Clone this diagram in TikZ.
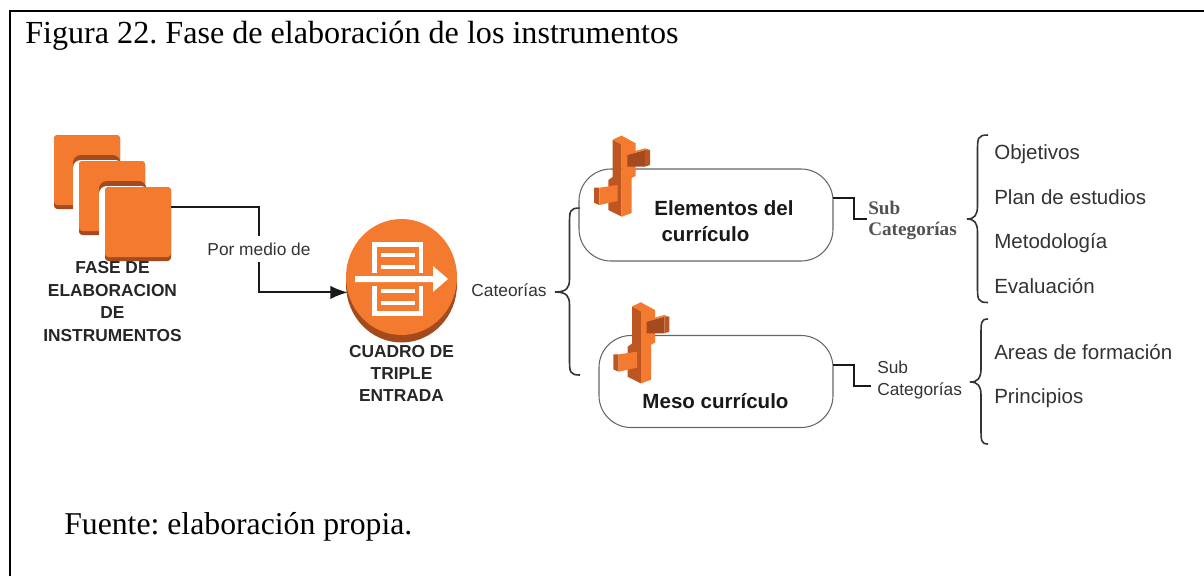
\documentclass[tikz,border=0pt]{standalone}
\usepackage{xcolor}
\usepackage{fontspec}
\setmainfont{Liberation Serif}
\setsansfont{Liberation Sans}
\usepackage{tikz}
\usetikzlibrary{calc}
\usetikzlibrary{arrows.meta}
\usetikzlibrary{shapes.geometric}
\definecolor{awsorange}{HTML}{F37A2E}
\definecolor{awsdark}{HTML}{A54A1D}
\definecolor{awsmid}{HTML}{BE5622}
\definecolor{labelgray}{HTML}{333333}
\tikzset{>=latex}
\tikzstyle{head} = [font = \fontsize{23.8}{26}\selectfont\rmfamily\frenchspacing, inner sep=0pt, anchor=west]
\tikzstyle{lab} = [font = \fontsize{13}{15}\selectfont\sffamily, text = labelgray, inner sep=0pt]
\tikzstyle{biglab} = [font = \fontsize{15.4}{18}\selectfont\sffamily, text = labelgray, inner sep=0pt, anchor=west]
\tikzstyle{iconlab} = [font = \fontsize{13}{15}\selectfont\sffamily\bfseries, text = black!85, inner sep=0pt]
\tikzstyle{boxlab} = [font = \fontsize{15.4}{18}\selectfont\sffamily\bfseries, text = black!90, inner sep=0pt]
\tikzstyle{serlab} = [font = \fontsize{14.4}{16}\selectfont\rmfamily\bfseries, text = labelgray!85, inner sep=0pt, anchor=west]
\tikzstyle{catbox} = [rectangle, draw = black!60, line width=0.8pt, rounded corners=24pt, inner sep=0pt]
\tikzstyle{bracket} = [draw = black!80, line width=1.2pt]
\tikzstyle{elbow} = [draw = black!90, line width=1.4pt]
\newcommand{\docsheet}[2]{
\fill [awsdark, rounded corners=2.5pt] (#1, #2) rectangle ++(66, 74);
\fill [awsorange, rounded corners=2.5pt] (#1, #2) rectangle ++(66, 70);
}
\newcommand{\docnotch}[2]{
\fill [awsdark, rounded corners=6pt] (#1, #2) rectangle ++(47.5, 30);
\fill [white, rounded corners=6pt] (#1, #2+5) rectangle ++(50, 56);
}
\newcommand{\treeicon}[2]{
\begin{scope}[shift = {(#1, #2)}]
\fill [awsmid] (612.7, 140) -- (621.7, 135.7) -- (621.7, 216.7) -- (608.3, 210) -- (608.3, 180) -- (612.7, 177) -- cycle;
\fill [awsorange] (621.7, 135.7) -- (635.7, 143.3) -- (635.7, 176) -- (631.7, 178) -- (631.7, 213) -- (621.7, 216.7) -- cycle;
\fill [awsorange] (612.7, 140) -- (621.7, 135.7) -- (624, 146) -- cycle;
\fill [awsdark] (627.3, 155) -- (645, 150) -- (645, 166.7) -- (627.3, 166.7) -- cycle;
\fill [awsorange] (627.3, 153.3) -- (645, 148.3) -- (650, 150) -- (645, 150) -- (627.3, 155) -- cycle;
\fill [awsmid] (645, 150) -- (650, 150) -- (650, 165) -- (645, 166.7) -- cycle;
\fill [awsmid] (594, 187.7) -- (599.3, 187.7) -- (599.3, 205) -- (594, 202.7) -- cycle;
\fill [awsorange] (599.3, 187.7) -- (617.7, 185) -- (617.7, 201) -- (599.3, 205) -- cycle;
\end{scope}
}
% curly bracket through named points
\newcommand{\curly}[4]{
\draw [bracket] (#1) .. controls (#2 |- #1) and ($(#2 |- #1)+(0, 3)$) .. ($(#2 |- #1)+(0, 17)$) -- ($(#2 |- #3)+(0, -13)$) .. controls ($(#2 |- #3)+(0, -4)$) and ($(#2 |- #3)+(-3, 0)$) .. (#3) .. controls ($(#2 |- #3)+(-3, 0)$) and ($(#2 |- #3)+(0, 4)$) .. ($(#2 |- #3)+(0, 13)$) -- ($(#2 |- #4)+(0, -17)$) .. controls ($(#2 |- #4)+(0, -3)$) and (#2 |- #4) .. (#4);
}
\begin{document}
\begin{tikzpicture}[x=0.75pt, y=-0.75pt]
\useasboundingbox (0, 0) rectangle (1204, 576);
\draw [line width=1.6pt] (10, 576) -- (10, 11) -- (1204, 11);
\node [head, font = \fontsize{24.1}{26}\selectfont\rmfamily\frenchspacing] (title) at (25, 35.5) {Figura 22. Fase de elaboración de los instrumentos};
\node [head] (source) at (64, 526.5) {Fuente: elaboración propia.};
% stack of sheets
\docsheet{54}{135}
\docnotch{73}{155}
\docsheet{79}{161}
\docnotch{99}{181}
\docsheet{105}{187}
\node [rectangle, minimum width=49.5pt, minimum height=52.5pt, inner sep=0pt] (fase) at (138, 222) {};
\node [iconlab] (faseA) at (112.5, 268) {FASE DE};
\node [iconlab] (faseB) at (112.5, 290.5) {ELABORACION};
\node [iconlab] (faseC) at (112.5, 313) {DE};
\node [iconlab] (faseD) at (112.5, 336) {INSTRUMENTOS};
% round icon
\node [ellipse, fill=awsdark, minimum width=83.2pt, minimum height=87pt, inner sep=0pt] (cuadrobase) at (401.5, 284.5) {};
\node [ellipse, fill=awsorange, minimum width=83.2pt, minimum height=87pt, inner sep=0pt] (cuadro) at (401.5, 277) {};
\draw [white, line width=3.6pt] (374.2, 273.3) -- (374.2, 244.7) -- (421, 244.7) -- (421, 273.3);
\draw [white, line width=3.6pt] (374.2, 285.7) -- (374.2, 313.6) -- (421, 313.6) -- (421, 285.7);
\foreach \ybar in {255, 266.7, 291, 302.5}
  \draw [white, line width=3pt] (381, \ybar) -- (415, \ybar);
\fill [white] (355, 276) -- (433, 276) -- (433, 266) -- (448, 279) -- (433, 292) -- (433, 282) -- (355, 282) -- cycle;
\node [iconlab] (cuadroA) at (401.5, 351.7) {CUADRO DE};
\node [iconlab] (cuadroB) at (401.5, 374) {TRIPLE};
\node [iconlab] (cuadroC) at (401.5, 396) {ENTRADA};
% link between icons
\node [lab, minimum height=18.5pt] (medio) at (259, 249) {Por medio de};
\draw [elbow] ($(fase.north east)!0.29!(fase.south east)$) -| (medio.north);
\draw [elbow, -{Latex[length=13pt, width=10pt]}] (medio.south) |- (cuadro.196);
% categories
\node [lab] (cat) at (509, 290) {Cateorías};
\coordinate (catup) at (580, 208);
\coordinate (catdown) at (580, 375);
\coordinate (catspine) at (569.5, 292);
\coordinate (cattip) at (555, 292);
\curly{catup}{catspine}{cattip}{catdown}
\node [catbox, minimum width=190.5pt, minimum height=69pt] (elem) at (706, 215) {};
\node [catbox, minimum width=175.5pt, minimum height=69pt] (meso) at (716, 381.5) {};
\treeicon{0}{0}
\treeicon{19.3}{166.7}
\node [boxlab] (elemA) at (724, 208) {Elementos del};
\node [boxlab] (elemB) at (705.5, 234) {currículo};
\node [boxlab] (mesoA) at (715.5, 401) {Meso currículo};
% sub categories
\node [serlab] (subA) at (868, 207.7) {Sub};
\node [serlab] (subB) at (868, 230.5) {Categorías};
\node [lab, anchor=west] (subC) at (877, 367.7) {Sub};
\node [lab, anchor=west] (subD) at (877, 390.5) {Categorías};
\coordinate (elemout) at (833, 198);
\coordinate (mesoout) at (833, 365);
\coordinate (elemend) at (867, 219);
\coordinate (mesoend) at (871, 386);
\draw [elbow] (elemout) -- (854, 198) |- (elemend);
\draw [elbow] (mesoout) -- (854, 365) |- (mesoend);
% right lists
\coordinate (listAup) at (988, 135);
\coordinate (listAdown) at (988, 302.5);
\coordinate (listAspine) at (977.5, 219);
\coordinate (listAtip) at (967, 219);
\coordinate (listBup) at (988, 319);
\coordinate (listBdown) at (988, 444);
\coordinate (listBspine) at (981, 382);
\coordinate (listBtip) at (970, 382);
\curly{listAup}{listAspine}{listAtip}{listAdown}
\curly{listBup}{listBspine}{listBtip}{listBdown}
\node [biglab] (obj) at (994, 154) {Objetivos};
\node [biglab] (plan) at (994, 197) {Plan de estudios};
\node [biglab] (met) at (994, 243) {Metodología};
\node [biglab] (eva) at (994, 286) {Evaluación};
\node [biglab] (area) at (994, 352) {Areas de formación};
\node [biglab] (prin) at (994, 398) {Principios};
\end{tikzpicture}
\end{document}
